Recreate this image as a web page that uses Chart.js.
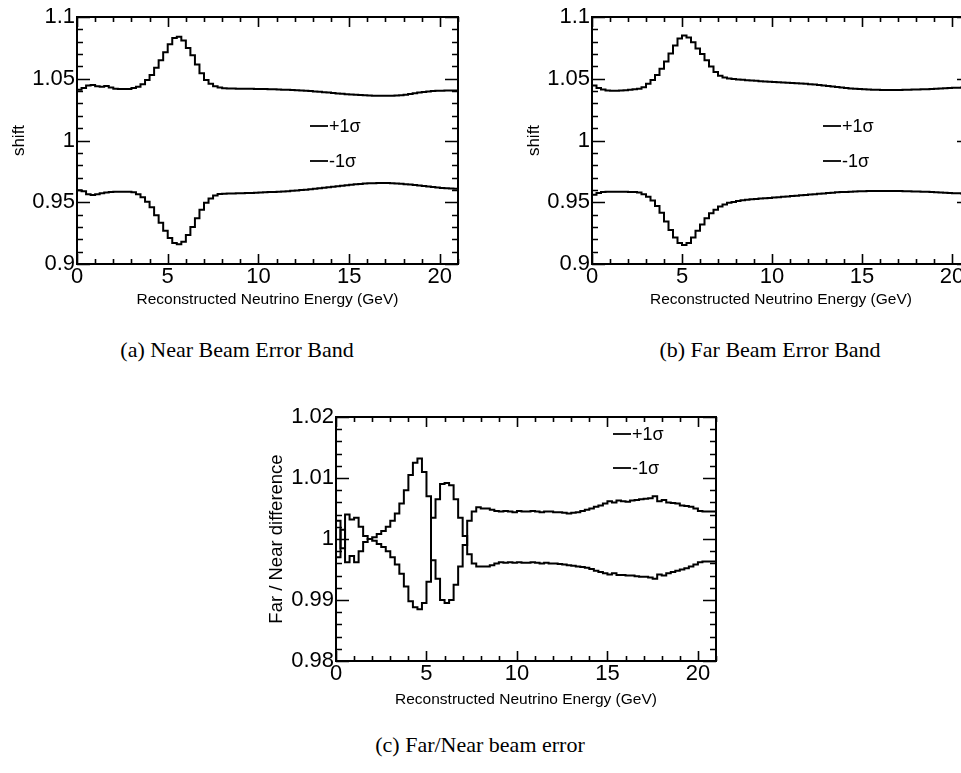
<!DOCTYPE html>
<html><head><meta charset="utf-8">
<script src="https://cdn.jsdelivr.net/npm/chart.js@4.4.0/dist/chart.umd.min.js"></script>
<style>
html,body{margin:0;padding:0;background:#fff;overflow:hidden;width:961px;height:773px;}
#wrap{position:relative;width:961px;height:773px;overflow:hidden;background:#fff;}
.pane{position:absolute;}
.cap{position:absolute;font-family:"Liberation Serif","Times New Roman",serif;font-size:22px;color:#000;white-space:nowrap;transform:translateX(-50%);line-height:24px;}
</style></head><body>
<div id="wrap">
 <div class="pane" style="left:0px;top:0px;"><canvas id="cA" width="480" height="320"></canvas></div>
 <div class="pane" style="left:515px;top:0px;"><canvas id="cB" width="480" height="320"></canvas></div>
 <div class="pane" style="left:259px;top:400px;"><canvas id="cC" width="480" height="320"></canvas></div>
 <div class="cap" style="left:237px;top:338px;">(a) Near Beam Error Band</div>
 <div class="cap" style="left:770px;top:338px;">(b) Far Beam Error Band</div>
 <div class="cap" style="left:480px;top:733px;">(c) Far/Near beam error</div>
</div>
<script>
// ---- data (bin width 0.25 GeV, 0..21 GeV) ----
const binWidth = 0.25;
const xTitle = "Reconstructed Neutrino Energy (GeV)";
const legendLabels = ["+1\u03c3", "-1\u03c3"];

const nearUp = [1.0410,1.0425,1.0445,1.0450,1.0440,1.0436,1.0442,1.0430,1.0420,1.0418,
1.0417,1.0418,1.0425,1.0435,1.0455,1.0490,1.0530,1.0590,1.0650,1.0715,
1.0780,1.0830,1.0840,1.0810,1.0750,1.0690,1.0615,1.0545,1.0490,1.0460,
1.0440,1.0430,1.0424,1.0422,1.0421,1.0420,1.0420,1.0419,1.0419,1.0418,
1.0417,1.0416,1.0415,1.0414,1.0413,1.0411,1.0410,1.0409,1.0407,1.0405,
1.0403,1.0400,1.0397,1.0394,1.0391,1.0388,1.0385,1.0381,1.0378,1.0375,
1.0372,1.0370,1.0368,1.0366,1.0364,1.0363,1.0362,1.0362,1.0362,1.0363,
1.0364,1.0366,1.0370,1.0376,1.0383,1.0389,1.0393,1.0397,1.0400,1.0402,
1.0403,1.0404,1.0405,1.0405];
const nearDown = [0.9598,0.9590,0.9565,0.9558,0.9565,0.9572,0.9578,0.9582,0.9585,0.9586,
0.9586,0.9585,0.9580,0.9565,0.9540,0.9505,0.9460,0.9395,0.9335,0.9270,
0.9210,0.9170,0.9160,0.9180,0.9235,0.9300,0.9370,0.9440,0.9495,0.9530,
0.9555,0.9566,0.9568,0.9570,0.9571,0.9572,0.9573,0.9574,0.9575,0.9577,
0.9578,0.9580,0.9582,0.9584,0.9586,0.9588,0.9590,0.9593,0.9596,0.9599,
0.9602,0.9606,0.9610,0.9614,0.9618,0.9622,0.9626,0.9630,0.9634,0.9638,
0.9642,0.9645,0.9648,0.9651,0.9653,0.9654,0.9655,0.9655,0.9655,0.9654,
0.9652,0.9649,0.9646,0.9643,0.9639,0.9635,0.9631,0.9627,0.9623,0.9619,
0.9616,0.9613,0.9611,0.9610];
const farUp = [1.0445,1.0425,1.0412,1.0405,1.0403,1.0403,1.0405,1.0407,1.0410,1.0414,
1.0420,1.0432,1.0460,1.0490,1.0530,1.0580,1.0640,1.0705,1.0770,1.0825,
1.0850,1.0835,1.0795,1.0745,1.0700,1.0650,1.0600,1.0555,1.0525,1.0510,
1.0502,1.0497,1.0494,1.0491,1.0488,1.0486,1.0483,1.0480,1.0478,1.0476,
1.0474,1.0472,1.0470,1.0468,1.0466,1.0464,1.0462,1.0459,1.0456,1.0453,
1.0449,1.0445,1.0441,1.0437,1.0433,1.0429,1.0425,1.0422,1.0419,1.0417,
1.0415,1.0413,1.0411,1.0410,1.0409,1.0408,1.0408,1.0408,1.0409,1.0410,
1.0411,1.0412,1.0413,1.0414,1.0415,1.0417,1.0419,1.0421,1.0423,1.0425,
1.0427,1.0428,1.0429,1.0430];
const farDown = [0.9560,0.9575,0.9582,0.9585,0.9586,0.9586,0.9586,0.9585,0.9584,0.9582,
0.9578,0.9565,0.9545,0.9515,0.9470,0.9415,0.9345,0.9275,0.9215,0.9170,
0.9153,0.9170,0.9215,0.9270,0.9320,0.9370,0.9410,0.9440,0.9465,0.9482,
0.9495,0.9503,0.9511,0.9517,0.9521,0.9524,0.9527,0.9530,0.9533,0.9535,
0.9538,0.9541,0.9544,0.9547,0.9550,0.9553,0.9556,0.9559,0.9562,0.9565,
0.9568,0.9571,0.9574,0.9577,0.9580,0.9582,0.9584,0.9586,0.9588,0.9589,
0.9590,0.9591,0.9591,0.9592,0.9592,0.9592,0.9592,0.9592,0.9591,0.9590,
0.9589,0.9588,0.9587,0.9586,0.9585,0.9583,0.9581,0.9579,0.9577,0.9575,
0.9573,0.9572,0.9571,0.9570];
const ratioUp = [1.0030,0.9985,1.0040,1.0032,1.0035,1.0020,1.0005,1.0000,1.0003,1.0008,
1.0013,1.0020,1.0030,1.0042,1.0058,1.0080,1.0105,1.0125,1.0132,1.0110,
1.0070,0.9965,0.9935,0.9900,0.9895,0.9900,0.9925,0.9955,0.9990,1.0030,
1.0045,1.0052,1.0050,1.0050,1.0048,1.0046,1.0045,1.0046,1.0045,1.0044,
1.0046,1.0045,1.0045,1.0046,1.0045,1.0044,1.0045,1.0045,1.0044,1.0044,
1.0043,1.0042,1.0043,1.0044,1.0046,1.0048,1.0050,1.0053,1.0055,1.0058,
1.0062,1.0060,1.0063,1.0062,1.0061,1.0063,1.0064,1.0065,1.0066,1.0067,
1.0070,1.0062,1.0064,1.0060,1.0059,1.0058,1.0055,1.0054,1.0053,1.0050,
1.0046,1.0045,1.0045,1.0045];
const ratioDown = [0.9970,1.0015,0.9962,0.9972,0.9962,0.9980,0.9995,1.0000,0.9997,0.9992,
0.9987,0.9980,0.9970,0.9958,0.9943,0.9922,0.9898,0.9888,0.9885,0.9895,
0.9930,1.0035,1.0065,1.0090,1.0092,1.0088,1.0065,1.0035,1.0005,0.9975,
0.9960,0.9955,0.9955,0.9955,0.9957,0.9960,0.9962,0.9961,0.9962,0.9961,
0.9962,0.9961,0.9961,0.9962,0.9961,0.9960,0.9961,0.9960,0.9960,0.9959,
0.9958,0.9957,0.9956,0.9955,0.9954,0.9953,0.9951,0.9948,0.9946,0.9944,
0.9942,0.9944,0.9941,0.9941,0.9940,0.9940,0.9939,0.9938,0.9938,0.9937,
0.9935,0.9942,0.9940,0.9944,0.9946,0.9948,0.9950,0.9952,0.9955,0.9958,
0.9962,0.9963,0.9963,0.9963];

// ---- helpers ----
const SANS = "'Liberation Sans', Arial, Helvetica, sans-serif";
function histPoints(vals){
  const pts = vals.map((v,i)=>({x:i*binWidth, y:v}));
  pts.push({x:vals.length*binWidth, y:vals[vals.length-1]});
  return pts;
}
function fmt(v){ return String(parseFloat(Number(v).toFixed(3))); }

const frameTicks = {
  id:'frameTicks',
  afterDatasetsDraw(chart, args, o){
    const {ctx, chartArea:a, scales:{x, y}} = chart;
    ctx.save();
    ctx.strokeStyle = '#000';
    ctx.lineWidth = 1.6;
    ctx.beginPath();
    const nx = Math.round((o.xMax - o.xMin)/o.xMinor);
    for(let i=0;i<=nx;i++){
      const px = Math.round(x.getPixelForValue(o.xMin + i*o.xMinor)) + 0.5;
      const L = (i % 5 === 0) ? 10 : 5;
      ctx.moveTo(px, a.bottom); ctx.lineTo(px, a.bottom - L);
      ctx.moveTo(px, a.top); ctx.lineTo(px, a.top + L);
    }
    const ny = Math.round((o.yMax - o.yMin)/o.yMinor);
    for(let j=0;j<=ny;j++){
      const py = Math.round(y.getPixelForValue(o.yMin + j*o.yMinor)) + 0.5;
      const L = (j % 5 === 0) ? 13 : 6;
      ctx.moveTo(a.left, py); ctx.lineTo(a.left + L, py);
      ctx.moveTo(a.right, py); ctx.lineTo(a.right - L, py);
    }
    ctx.stroke();
    ctx.lineWidth = 2;
    ctx.strokeRect(a.left, a.top, a.right - a.left, a.bottom - a.top);
    // legend
    ctx.font = '18px ' + SANS;
    ctx.fillStyle = '#000';
    ctx.textBaseline = 'middle';
    ctx.textAlign = 'left';
    ctx.lineWidth = 1.8;
    o.legend.forEach((it, k)=>{
      const ly = a.top + it.dy;
      ctx.beginPath();
      ctx.moveTo(a.left + it.dx, ly); ctx.lineTo(a.left + it.dx + 18, ly);
      ctx.stroke();
      ctx.fillText(legendLabels[k], a.left + it.dx + 19, ly + 1);
    });
    ctx.restore();
  }
};

function makeChart(id, up, down, o){
  return new Chart(document.getElementById(id), {
    type:'line',
    data:{ datasets:[
      {label:legendLabels[0], data:histPoints(up), borderColor:'#000', borderWidth:2, pointRadius:0, stepped:true, fill:false, tension:0},
      {label:legendLabels[1], data:histPoints(down), borderColor:'#000', borderWidth:2, pointRadius:0, stepped:true, fill:false, tension:0}
    ]},
    options:{
      responsive:false, animation:false, devicePixelRatio:1,
      layout:{padding:{left:0, top:17, right:o.rightPad, bottom:0}},
      plugins:{legend:{display:false}, tooltip:{enabled:false},
        frameTicks:{xMin:0, xMax:21, xMinor:1, yMin:o.yMin, yMax:o.yMax, yMinor:o.yMinor, legend:o.legend}},
      scales:{
        x:{type:'linear', min:0, max:21, position:'bottom',
          grid:{display:false, drawTicks:false}, border:{display:false},
          ticks:{stepSize:5, includeBounds:false, autoSkip:false, maxRotation:0, padding:0, color:'#000',
                 font:{family:SANS, size:22}, callback:v=>fmt(v)},
          title:{display:true, text:xTitle, color:'#000', font:{family:SANS, size:15.5}, padding:{top:0, bottom:o.xTitlePad}},
          afterFit:s=>{ s.height = o.xH; }
        },
        y:{type:'linear', min:o.yMin, max:o.yMax, position:'left',
          grid:{display:false, drawTicks:false}, border:{display:false},
          ticks:{stepSize:o.yStep, includeBounds:false, autoSkip:false, padding:2, color:'#000',
                 font:{family:SANS, size:22}, callback:v=>fmt(v)},
          title:{display:true, text:o.yTitle, color:'#000', font:{family:SANS, size:o.yTitleSize}, padding:{top:o.yTitlePad, bottom:0}},
          afterFit:s=>{ s.width = 77; }
        }
      }
    },
    plugins:[frameTicks]
  });
}

makeChart('cA', nearUp, nearDown, {rightPad:22, xH:56, xTitlePad:11, yMin:0.9, yMax:1.1, yStep:0.05, yMinor:0.01,
  yTitle:'shift', yTitleSize:17, yTitlePad:9, legend:[{dx:233, dy:109},{dx:233, dy:144}]});
makeChart('cB', farUp, farDown, {rightPad:25, xH:56, xTitlePad:11, yMin:0.9, yMax:1.1, yStep:0.05, yMinor:0.01,
  yTitle:'shift', yTitleSize:17, yTitlePad:9, legend:[{dx:231, dy:109},{dx:231, dy:144}]});
makeChart('cC', ratioUp, ratioDown, {rightPad:23, xH:59, xTitlePad:11, yMin:0.98, yMax:1.02, yStep:0.01, yMinor:0.002,
  yTitle:'Far / Near difference', yTitleSize:18.5, yTitlePad:7, legend:[{dx:277, dy:17},{dx:277, dy:51}]});
</script>
</body></html>
